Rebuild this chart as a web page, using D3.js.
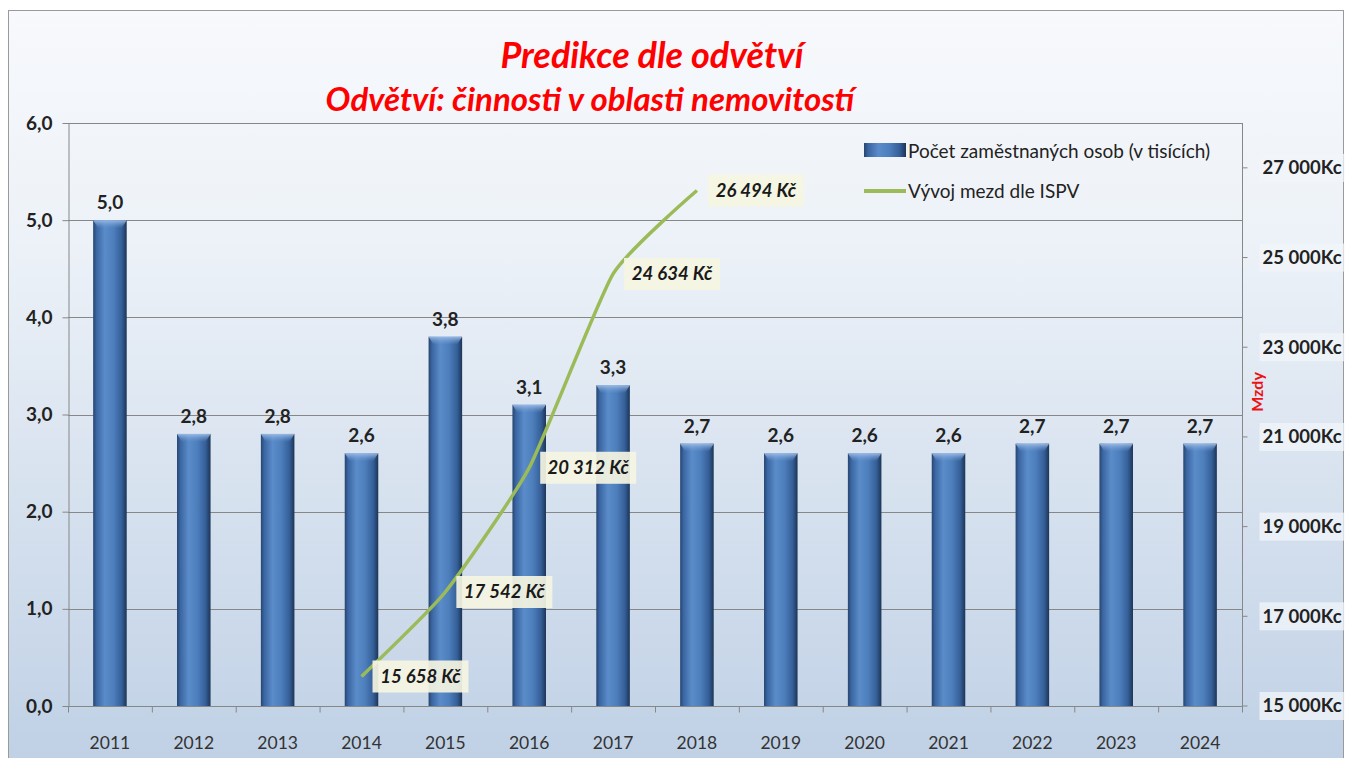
<!DOCTYPE html>
<html>
<head>
<meta charset="utf-8">
<script src="https://cdn.jsdelivr.net/npm/d3@7"></script>
<style>
  body { margin: 0; background: #fff; }
  text { font-family: Lato, "Liberation Sans", sans-serif; }
</style>
</head>
<body>
<div id="chart"></div>
<script>
const years = [2011, 2012, 2013, 2014, 2015, 2016, 2017, 2018, 2019, 2020, 2021, 2022, 2023, 2024];
const employees = [5.0, 2.8, 2.8, 2.6, 3.8, 3.1, 3.3, 2.7, 2.6, 2.6, 2.6, 2.7, 2.7, 2.7];
const wageYears = [2014, 2015, 2016, 2017, 2018];
const wages = [15658, 17542, 20312, 24634, 26494];
const leftTicks = [0, 1, 2, 3, 4, 5, 6];
const rightTicks = [15000, 17000, 19000, 21000, 23000, 25000, 27000];

const W = 1345, H = 758;
const plot = {left: 68, right: 1242, top: 123, bottom: 706};

const cz = d3.formatLocale({decimal: ',', thousands: '\u00a0', grouping: [3], currency: ['', '']});
const fmt1 = cz.format('.1f');
const fmtInt = cz.format(',d');

const svg = d3.select('#chart').append('svg')
    .attr('width', W)
    .attr('height', H);

const defs = svg.append('defs');

const bg = defs.append('linearGradient').attr('id', 'bg')
    .attr('x1', 0).attr('y1', 0).attr('x2', 0).attr('y2', 1);
bg.append('stop').attr('offset', '0%').attr('stop-color', '#f7f9fc');
bg.append('stop').attr('offset', '30%').attr('stop-color', '#edf2f8');
bg.append('stop').attr('offset', '100%').attr('stop-color', '#bfd0e5');

const barGrad = defs.append('linearGradient').attr('id', 'bar')
    .attr('x1', 0).attr('y1', 0).attr('x2', 1).attr('y2', 0);
[['0%', '#27456f'], ['10%', '#3a66a2'], ['35%', '#5b8cca'], ['60%', '#4e7fbd'],
 ['85%', '#355f98'], ['100%', '#1c3556']].forEach(s => {
  barGrad.append('stop').attr('offset', s[0]).attr('stop-color', s[1]);
});

const capGrad = defs.append('linearGradient').attr('id', 'cap')
    .attr('x1', 0).attr('y1', 0).attr('x2', 0).attr('y2', 1);
capGrad.append('stop').attr('offset', '0%').attr('stop-color', '#9dbde6').attr('stop-opacity', 0.95);
capGrad.append('stop').attr('offset', '100%').attr('stop-color', '#6f9bd3').attr('stop-opacity', 0);

// background + frame
svg.append('rect')
    .attr('x', 8.5).attr('y', 10.5)
    .attr('width', W - 10).attr('height', H)
    .attr('fill', 'url(#bg)')
    .attr('stroke', '#9a9a9a');

// scales
const x = d3.scaleBand()
    .domain(years)
    .range([plot.left, plot.right])
    .paddingInner(0.6)
    .paddingOuter(0.3);
const step = x.step();

const yL = d3.scaleLinear().domain([0, 6]).range([plot.bottom, plot.top]);
const yR = d3.scaleLinear().domain([15000, 28000]).range([plot.bottom, plot.top]);

// gridlines
svg.append('g')
    .selectAll('line')
    .data(leftTicks.filter(d => d > 0))
    .enter()
    .append('line')
    .attr('x1', plot.left).attr('x2', plot.right)
    .attr('y1', d => Math.round(yL(d)) + 0.5)
    .attr('y2', d => Math.round(yL(d)) + 0.5)
    .attr('stroke', '#878787');

// left axis
const axL = svg.append('g')
    .attr('transform', 'translate(' + (plot.left + 0.5) + ',0)')
    .call(d3.axisLeft(yL).tickValues(leftTicks).tickFormat(fmt1).tickSize(6).tickPadding(10).tickSizeOuter(0));
axL.select('.domain').attr('stroke', '#878787');
axL.selectAll('.tick line').attr('stroke', '#878787');
axL.selectAll('text')
    .attr('font-size', 19).attr('font-weight', 'bold').attr('fill', '#222');

// bottom axis
const axB = svg.append('g')
    .attr('transform', 'translate(0,' + (plot.bottom + 0.5) + ')');
axB.append('line')
    .attr('x1', plot.left).attr('x2', plot.right)
    .attr('stroke', '#878787');
axB.selectAll('.tk')
    .data(d3.range(years.length + 1))
    .enter()
    .append('line')
    .attr('class', 'tk')
    .attr('x1', i => plot.left + i * step + 0.5)
    .attr('x2', i => plot.left + i * step + 0.5)
    .attr('y1', 0).attr('y2', 6)
    .attr('stroke', '#878787');
axB.selectAll('text')
    .data(years)
    .enter()
    .append('text')
    .attr('x', d => x(d) + x.bandwidth() / 2)
    .attr('y', 42)
    .attr('text-anchor', 'middle')
    .attr('font-size', 17.5)
    .attr('fill', '#333')
    .text(d => d);

// right axis
const axR = svg.append('g')
    .attr('transform', 'translate(' + (plot.right + 0.5) + ',0)');
axR.append('line')
    .attr('y1', plot.top).attr('y2', plot.bottom + 6)
    .attr('stroke', '#878787');
const rt = axR.selectAll('.rt')
    .data(rightTicks)
    .enter()
    .append('g')
    .attr('class', 'rt')
    .attr('transform', d => 'translate(0,' + yR(d) + ')');
rt.append('line').attr('x2', 5).attr('stroke', '#878787');
rt.append('rect')
    .attr('x', 17).attr('y', -14)
    .attr('width', 85).attr('height', 28)
    .attr('fill', '#f1f5fa').attr('opacity', 0.75);
rt.append('text')
    .attr('x', 20).attr('dy', '0.35em')
    .attr('font-size', 18.5).attr('font-weight', 'bold').attr('fill', '#222')
    .text(d => fmtInt(d) + 'Kc');

svg.append('text')
    .attr('transform', 'translate(1263,392) rotate(-90)')
    .attr('text-anchor', 'middle')
    .attr('font-size', 16).attr('font-weight', 'bold').attr('fill', '#ee1111')
    .text('Mzdy');

// bars
const bars = svg.append('g')
    .selectAll('.bar')
    .data(years.map((yr, i) => ({year: yr, value: employees[i]})))
    .enter()
    .append('g')
    .attr('class', 'bar');

bars.append('rect')
    .attr('x', d => x(d.year))
    .attr('y', d => yL(d.value))
    .attr('width', x.bandwidth())
    .attr('height', d => plot.bottom - yL(d.value))
    .attr('fill', 'url(#bar)');

bars.append('path')
    .attr('d', d => {
      const x0 = x(d.year), w = x.bandwidth(), y0 = yL(d.value);
      return 'M' + x0 + ',' + y0 + 'h' + w + 'l-5,8h' + (-(w - 10)) + 'z';
    })
    .attr('fill', 'url(#cap)');

bars.append('text')
    .attr('x', d => x(d.year) + x.bandwidth() / 2)
    .attr('y', d => yL(d.value) - 11)
    .attr('text-anchor', 'middle')
    .attr('font-size', 19).attr('font-weight', 'bold').attr('fill', '#222')
    .text(d => fmt1(d.value));

// wage line
const wageData = wageYears.map((yr, i) => ({year: yr, value: wages[i]}));
const cx = d => x(d.year) + x.bandwidth() / 2;

svg.append('path')
    .datum(wageData)
    .attr('d', d3.line().x(cx).y(d => yR(d.value)).curve(d3.curveCardinal.tension(0.5)))
    .attr('fill', 'none')
    .attr('stroke', '#9bbb59')
    .attr('stroke-width', 3.5);

const lbl = svg.append('g')
    .selectAll('.lbl')
    .data(wageData)
    .enter()
    .append('g')
    .attr('class', 'lbl')
    .attr('transform', d => 'translate(' + (cx(d) + 11) + ',' + yR(d.value) + ')');

lbl.append('rect')
    .attr('x', 0).attr('y', -16)
    .attr('width', 96).attr('height', 32)
    .attr('fill', '#f5f5e2').attr('opacity', 0.92);
lbl.append('text')
    .attr('x', 48).attr('dy', '0.35em')
    .attr('text-anchor', 'middle')
    .attr('font-size', 18.5).attr('font-weight', 'bold').attr('font-style', 'italic')
    .attr('fill', '#1a1a1a')
    .text(d => fmtInt(d.value) + ' Kč');

// legend
const leg = svg.append('g').attr('transform', 'translate(864,0)');
leg.append('rect')
    .attr('x', 0).attr('y', 143)
    .attr('width', 42).attr('height', 14)
    .attr('fill', 'url(#bar)');
leg.append('text')
    .attr('x', 44).attr('y', 151).attr('dy', '0.35em')
    .attr('font-size', 19).attr('fill', '#222')
    .text('Počet zaměstnaných osob (v tisících)');
leg.append('line')
    .attr('x1', 0).attr('x2', 42)
    .attr('y1', 191).attr('y2', 191)
    .attr('stroke', '#9bbb59').attr('stroke-width', 4);
leg.append('text')
    .attr('x', 44).attr('y', 191).attr('dy', '0.35em')
    .attr('font-size', 19).attr('fill', '#222')
    .text('Vývoj mezd dle ISPV');

// titles
svg.append('text')
    .attr('x', 652).attr('y', 68)
    .attr('text-anchor', 'middle')
    .attr('font-size', 36).attr('font-weight', 'bold').attr('font-style', 'italic')
    .attr('fill', '#ff0000')
    .text('Predikce dle odvětví');
svg.append('text')
    .attr('x', 590).attr('y', 111)
    .attr('text-anchor', 'middle')
    .attr('font-size', 33).attr('font-weight', 'bold').attr('font-style', 'italic')
    .attr('fill', '#ff0000')
    .text('Odvětví: činnosti v oblasti nemovitostí');
</script>
</body>
</html>
